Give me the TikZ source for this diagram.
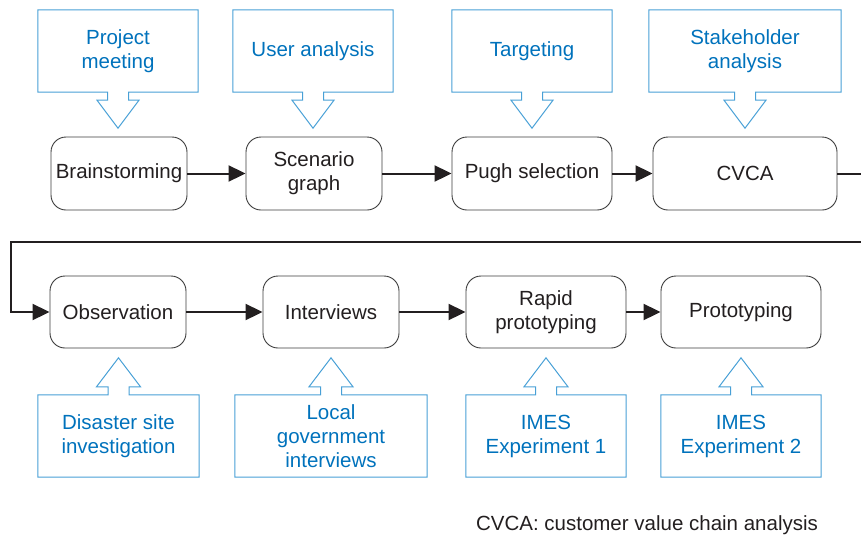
\documentclass[tikz,border=0pt]{standalone}
\usepackage{fontspec}
\setmainfont{Liberation Sans}
\usetikzlibrary{arrows.meta,calc}

\definecolor{ink}{RGB}{35,31,32}
\definecolor{calltext}{RGB}{0,114,188}
\definecolor{callline}{RGB}{72,160,214}
\definecolor{boxline}{RGB}{60,60,60}

\tikzset{
  every node/.style={font=\fontsize{20.5}{24}\selectfont, align=center, inner sep=0pt},
  stepbox/.style={draw=boxline, line width=0.9pt, rounded corners=15pt, fill=white, text=ink},
  callbox/.style={text=calltext},
  callout/.style={draw=callline, line width=1pt, line join=miter},
  flow/.style={draw=ink, line width=2pt, -{Triangle[length=17pt,width=16pt]}},
}

% callout box with a hollow block arrow pointing down from its lower edge
\newcommand\calldown[1]{%
  \draw[callout] (#1.south west) -- (#1.north west) -- (#1.north east) -- (#1.south east)
    -- ($(#1.south)+(10.5,0)$) -- ++(0,8) -- ++(10.5,0) -- ($(#1.south)+(0,36)$)
    -- ($(#1.south)+(-21,8)$) -- ++(10.5,0) -- ($(#1.south)+(-10.5,0)$) -- cycle;}
% callout box with a hollow block arrow pointing up from its upper edge
\newcommand\callup[1]{%
  \draw[callout] (#1.north west) -- (#1.south west) -- (#1.south east) -- (#1.north east)
    -- ($(#1.north)+(10.5,0)$) -- ++(0,-8) -- ++(11.5,0) -- ($(#1.north)+(0,-37)$)
    -- ($(#1.north)+(-22,-8)$) -- ++(11.5,0) -- ($(#1.north)+(-10.5,0)$) -- cycle;}

\begin{document}
\begin{tikzpicture}[x=1pt, y=-1pt]
\clip (0,0) rectangle (861,536);

% top row: inputs
\node[callbox, minimum width=160pt, minimum height=82pt] (pm) at (118,51) {Project\\meeting};
\node[callbox, minimum width=160pt, minimum height=82pt] (ua) at (313,51) {User analysis};
\node[callbox, minimum width=160pt, minimum height=82pt] (tg) at (532,51) {Targeting};
\node[callbox, minimum width=192pt, minimum height=82pt] (sa) at (745,51) {Stakeholder\\analysis};

% top row: steps
\node[stepbox, minimum width=136pt, minimum height=73pt] (bs) at (119,173.5) {Brainstorming};
\node[stepbox, minimum width=136pt, minimum height=73pt] (sg) at (314,173.5) {Scenario\\graph};
\node[stepbox, minimum width=160pt, minimum height=73pt] (ps) at (532,173.5) {Pugh selection};
\node[stepbox, minimum width=184pt, minimum height=73pt] (cv) at (745,173.5) {CVCA};

% bottom row: steps
\node[stepbox, minimum width=136pt, minimum height=72pt] (ob) at (118,312) {Observation};
\node[stepbox, minimum width=136pt, minimum height=72pt] (iv) at (331,312) {Interviews};
\node[stepbox, minimum width=160pt, minimum height=72pt] (rp) at (546,312) {Rapid\\prototyping};
\node[stepbox, minimum width=160pt, minimum height=72pt] (pt) at (741,312) {Prototyping};

% bottom row: inputs
\node[callbox, minimum width=161pt, minimum height=82pt] (ds) at (118.5,436) {Disaster site\\investigation};
\node[callbox, minimum width=192pt, minimum height=82pt] (lg) at (331,436) {Local\\government\\interviews};
\node[callbox, minimum width=160pt, minimum height=82pt] (e1) at (546,436) {IMES\\Experiment 1};
\node[callbox, minimum width=160pt, minimum height=82pt] (e2) at (741,436) {IMES\\Experiment 2};

\calldown{pm} \calldown{ua} \calldown{tg} \calldown{sa}
\callup{ds} \callup{lg} \callup{e1} \callup{e2}

% process flow
\draw[flow] (bs) -- (sg);
\draw[flow] (sg) -- (ps);
\draw[flow] (ps) -- (cv);
\coordinate (r1) at (875,173.5);
\coordinate (r2) at (875,242);
\coordinate (l1) at (11,242);
\coordinate (l2) at (11,312);
\draw[flow] (cv.east) -- (r1) -- (r2) -- (l1) -- (l2) -- (ob.west);
\draw[flow] (ob) -- (iv);
\draw[flow] (iv) -- (rp);
\draw[flow] (rp) -- (pt);

\node[text=ink] (note) at (647,525) {CVCA: customer value chain analysis};
\end{tikzpicture}
\end{document}
